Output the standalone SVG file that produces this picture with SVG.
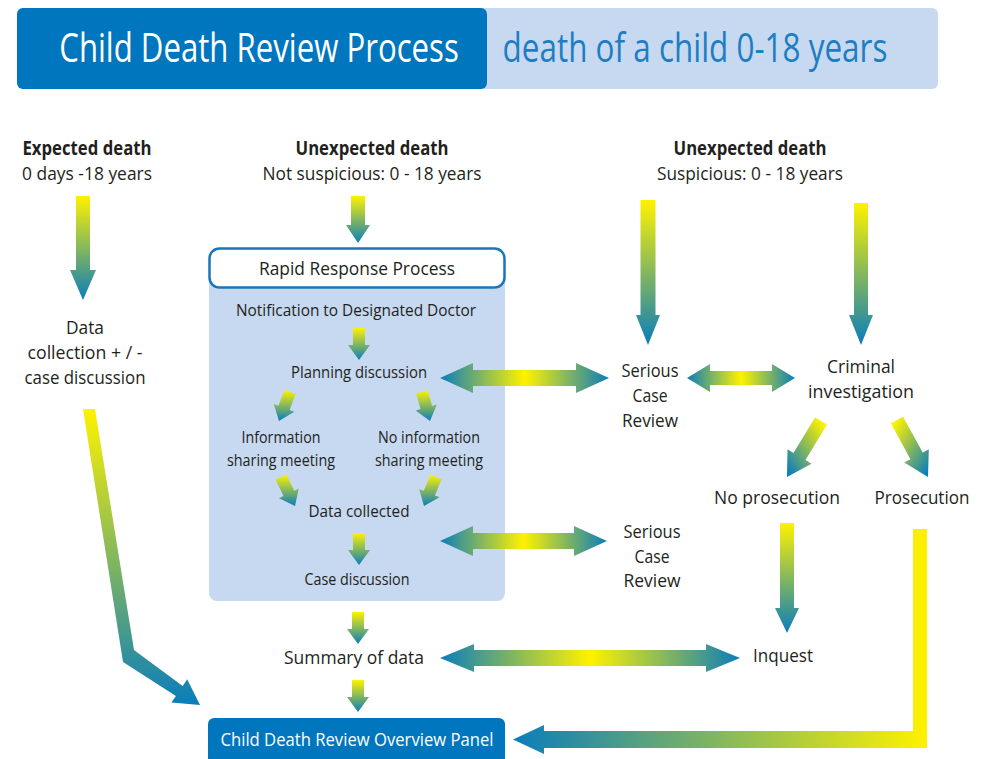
<svg xmlns="http://www.w3.org/2000/svg" width="988" height="759" viewBox="0 0 988 759">
<defs>
<linearGradient id="gv" x1="0" y1="0" x2="0" y2="1">
<stop offset="0" stop-color="#fff200"/>
<stop offset="1" stop-color="#0a7dbb"/>
</linearGradient>
<linearGradient id="gdl" x1="1" y1="0" x2="0" y2="1">
<stop offset="0.1" stop-color="#fff200"/>
<stop offset="0.95" stop-color="#0a7dbb"/>
</linearGradient>
<linearGradient id="gdr" x1="0" y1="0" x2="1" y2="1">
<stop offset="0.1" stop-color="#fff200"/>
<stop offset="0.95" stop-color="#0a7dbb"/>
</linearGradient>
<linearGradient id="gh" x1="0" y1="0" x2="1" y2="0">
<stop offset="0" stop-color="#0a7dbb"/>
<stop offset="0.5" stop-color="#fff200"/>
<stop offset="1" stop-color="#0a7dbb"/>
</linearGradient>
<linearGradient id="gl" x1="0" y1="0" x2="1" y2="0">
<stop offset="0" stop-color="#0a7dbb"/>
<stop offset="1" stop-color="#fff200"/>
</linearGradient>
</defs>
<style>
text{font-family:"Open Sans","Noto Sans","Liberation Sans",sans-serif;fill:#231f20;text-anchor:middle}
.b{font-weight:bold}
.m{font-size:19px}
.s{font-size:17px}
.w{fill:#ffffff}
.v{fill:url(#gv)}
.h{fill:url(#gh)}
</style>

<g id="header">
<rect x="17" y="8" width="921" height="81" rx="6" fill="#c6d9f1"/>
<rect x="17" y="8" width="470" height="81" rx="6" fill="#0076bf"/>
<text transform="translate(259,62) scale(0.779,1)" x="0" y="0" class="w" font-size="40">Child Death Review Process</text>
<text transform="translate(695,62) scale(0.786,1)" x="0" y="0" font-size="40" style="fill:#1f7dc1">death of a child 0-18 years</text>
</g>

<g id="expected">
<text x="87" y="155" class="m b" textLength="129" lengthAdjust="spacingAndGlyphs">Expected death</text>
<text x="87" y="180" class="m" textLength="130" lengthAdjust="spacingAndGlyphs">0 days -18 years</text>
</g>
<g id="unexpected-not-suspicious">
<text x="372" y="155" class="m b" textLength="153" lengthAdjust="spacingAndGlyphs">Unexpected death</text>
<text x="372" y="180" class="m" textLength="219" lengthAdjust="spacingAndGlyphs">Not suspicious: 0 - 18 years</text>
</g>
<g id="unexpected-suspicious">
<text x="750" y="155" class="m b" textLength="153" lengthAdjust="spacingAndGlyphs">Unexpected death</text>
<text x="750" y="180" class="m" textLength="186" lengthAdjust="spacingAndGlyphs">Suspicious: 0 - 18 years</text>
</g>
<g id="data-collection">
<text x="85" y="334" class="m" textLength="38" lengthAdjust="spacingAndGlyphs">Data</text>
<text x="85" y="359" class="m" textLength="115" lengthAdjust="spacingAndGlyphs">collection + / -</text>
<text x="85" y="384" class="m" textLength="121" lengthAdjust="spacingAndGlyphs">case discussion</text>
</g>

<g id="rapid-response">
<rect x="209" y="266" width="296" height="335" rx="8" fill="#c6d9f0"/>
<rect x="209.5" y="248.5" width="295" height="39" rx="10" fill="#ffffff" stroke="#1a76ba" stroke-width="2.5"/>
<text x="357" y="275" class="m" textLength="196" lengthAdjust="spacingAndGlyphs">Rapid Response Process</text>
</g>
<g id="notification"><text x="356" y="316" class="s" textLength="240" lengthAdjust="spacingAndGlyphs">Notification to Designated Doctor</text></g>
<g id="planning"><text x="359" y="378" class="s" textLength="136" lengthAdjust="spacingAndGlyphs">Planning discussion</text></g>
<g id="info-sharing">
<text x="281" y="443" class="s" textLength="79" lengthAdjust="spacingAndGlyphs">Information</text>
<text x="281" y="466" class="s" textLength="108" lengthAdjust="spacingAndGlyphs">sharing meeting</text>
</g>
<g id="no-info-sharing">
<text x="429" y="443" class="s" textLength="102" lengthAdjust="spacingAndGlyphs">No information</text>
<text x="429" y="466" class="s" textLength="108" lengthAdjust="spacingAndGlyphs">sharing meeting</text>
</g>
<g id="data-collected"><text x="359" y="517" class="s" textLength="101" lengthAdjust="spacingAndGlyphs">Data collected</text></g>
<g id="case-discussion"><text x="357" y="585" class="s" textLength="105" lengthAdjust="spacingAndGlyphs">Case discussion</text></g>

<g id="scr1">
<text x="650" y="377" class="m" textLength="57" lengthAdjust="spacingAndGlyphs">Serious</text>
<text x="650" y="402" class="m" textLength="35" lengthAdjust="spacingAndGlyphs">Case</text>
<text x="650" y="427" class="m" textLength="56" lengthAdjust="spacingAndGlyphs">Review</text>
</g>
<g id="criminal">
<text x="861" y="373" class="m" textLength="68" lengthAdjust="spacingAndGlyphs">Criminal</text>
<text x="861" y="398" class="m" textLength="106" lengthAdjust="spacingAndGlyphs">investigation</text>
</g>
<g id="no-prosecution"><text x="777" y="504" class="m" textLength="126" lengthAdjust="spacingAndGlyphs">No prosecution</text></g>
<g id="prosecution"><text x="922" y="504" class="m" textLength="95" lengthAdjust="spacingAndGlyphs">Prosecution</text></g>
<g id="scr2">
<text x="652" y="538" class="m" textLength="57" lengthAdjust="spacingAndGlyphs">Serious</text>
<text x="652" y="563" class="m" textLength="35" lengthAdjust="spacingAndGlyphs">Case</text>
<text x="652" y="587" class="m" textLength="57" lengthAdjust="spacingAndGlyphs">Review</text>
</g>
<g id="summary"><text x="354" y="664" class="m" textLength="140" lengthAdjust="spacingAndGlyphs">Summary of data</text></g>
<g id="inquest"><text x="783" y="662" class="m" textLength="60" lengthAdjust="spacingAndGlyphs">Inquest</text></g>
<g id="overview-panel">
<rect x="208" y="718" width="297" height="52" rx="6" fill="#0076bf"/>
<text x="357" y="746" class="w m" textLength="273" lengthAdjust="spacingAndGlyphs">Child Death Review Overview Panel</text>
</g>

<g id="connectors">
<path class="v" d="M76,196 H90 V270 H96 L83,300 L70,270 H76 Z"/>
<path class="v" d="M351,196 H365 V225 H370 L358,243 L346,225 H351 Z"/>
<path class="v" d="M640.5,200 H655.5 V315 H660 L648,345 L636,315 H640.5 Z"/>
<path class="v" d="M854,203 H868 V315 H873 L861,345 L849,315 H854 Z"/>
<path class="v" d="M353,328 H365 V345 H370 L359,360 L348,345 H353 Z"/>
<path class="v" d="M353,533 H365 V550 H370 L359,565 L348,550 H353 Z"/>
<path class="v" d="M352,612 H364 V629 H369 L358,644 L347,629 H352 Z"/>
<path class="v" d="M352,680 H364 V697 H369 L358,712 L347,697 H352 Z"/>
<path class="v" d="M780,523 H794 V608 H799 L787,633 L775,608 H780 Z"/>
<path class="v" d="M284.4,389.9 L295.6,394.1 L289.6,410 L294.3,411.8 L279,421 L273.7,404 L278.4,405.8 Z"/>
<path class="v" d="M416.2,393.6 L427.8,390.4 L432.1,405.9 L436.9,404.6 L430,421 L415.7,410.4 L420.5,409.1 Z"/>
<path class="v" d="M275.6,479.6 L286.4,474.4 L294.3,490.8 L298.8,488.6 L295,506 L279,498.2 L283.5,496 Z"/>
<path class="v" d="M430.5,474.7 L441.5,479.3 L434.9,495.4 L439.5,497.3 L424,506 L419.1,488.9 L423.8,490.8 Z"/>
<path fill="url(#gdl)" d="M815,417.4 L827,424.6 L805.5,460.1 L811.5,463.8 L787,477 L787.5,449.2 L793.5,452.9 Z"/>
<path fill="url(#gdr)" d="M890.9,423.3 L903.1,416.7 L922.7,452.6 L928.8,449.2 L928,477 L904.2,462.6 L910.4,459.2 Z"/>
<path class="h" d="M440,378 L473,363 V370 H576 V363 L609,378 L576,393 V386 H473 V393 Z"/>
<path class="h" d="M687,378 L710,364 V371 H772 V364 L795,378 L772,392 V385 H710 V392 Z"/>
<path class="h" d="M440,541 L473,526 V533 H574 V526 L607,541 L574,556 V549 H473 V556 Z"/>
<path class="h" d="M440,658 L474,644 V650 H706 V644 L740,658 L706,672 V666 H474 V672 Z"/>
<path class="v" d="M83,409 L95,409 L134,650 L182.7,685.9 L187.2,679.3 L200,705 L171.4,702.5 L175.9,695.9 L123,662 Z"/>
<path fill="url(#gl)" d="M913,529 H927 V748 H544 V754 L513,739.5 L544,725 V731 H913 Z"/>
</g>
</svg>
